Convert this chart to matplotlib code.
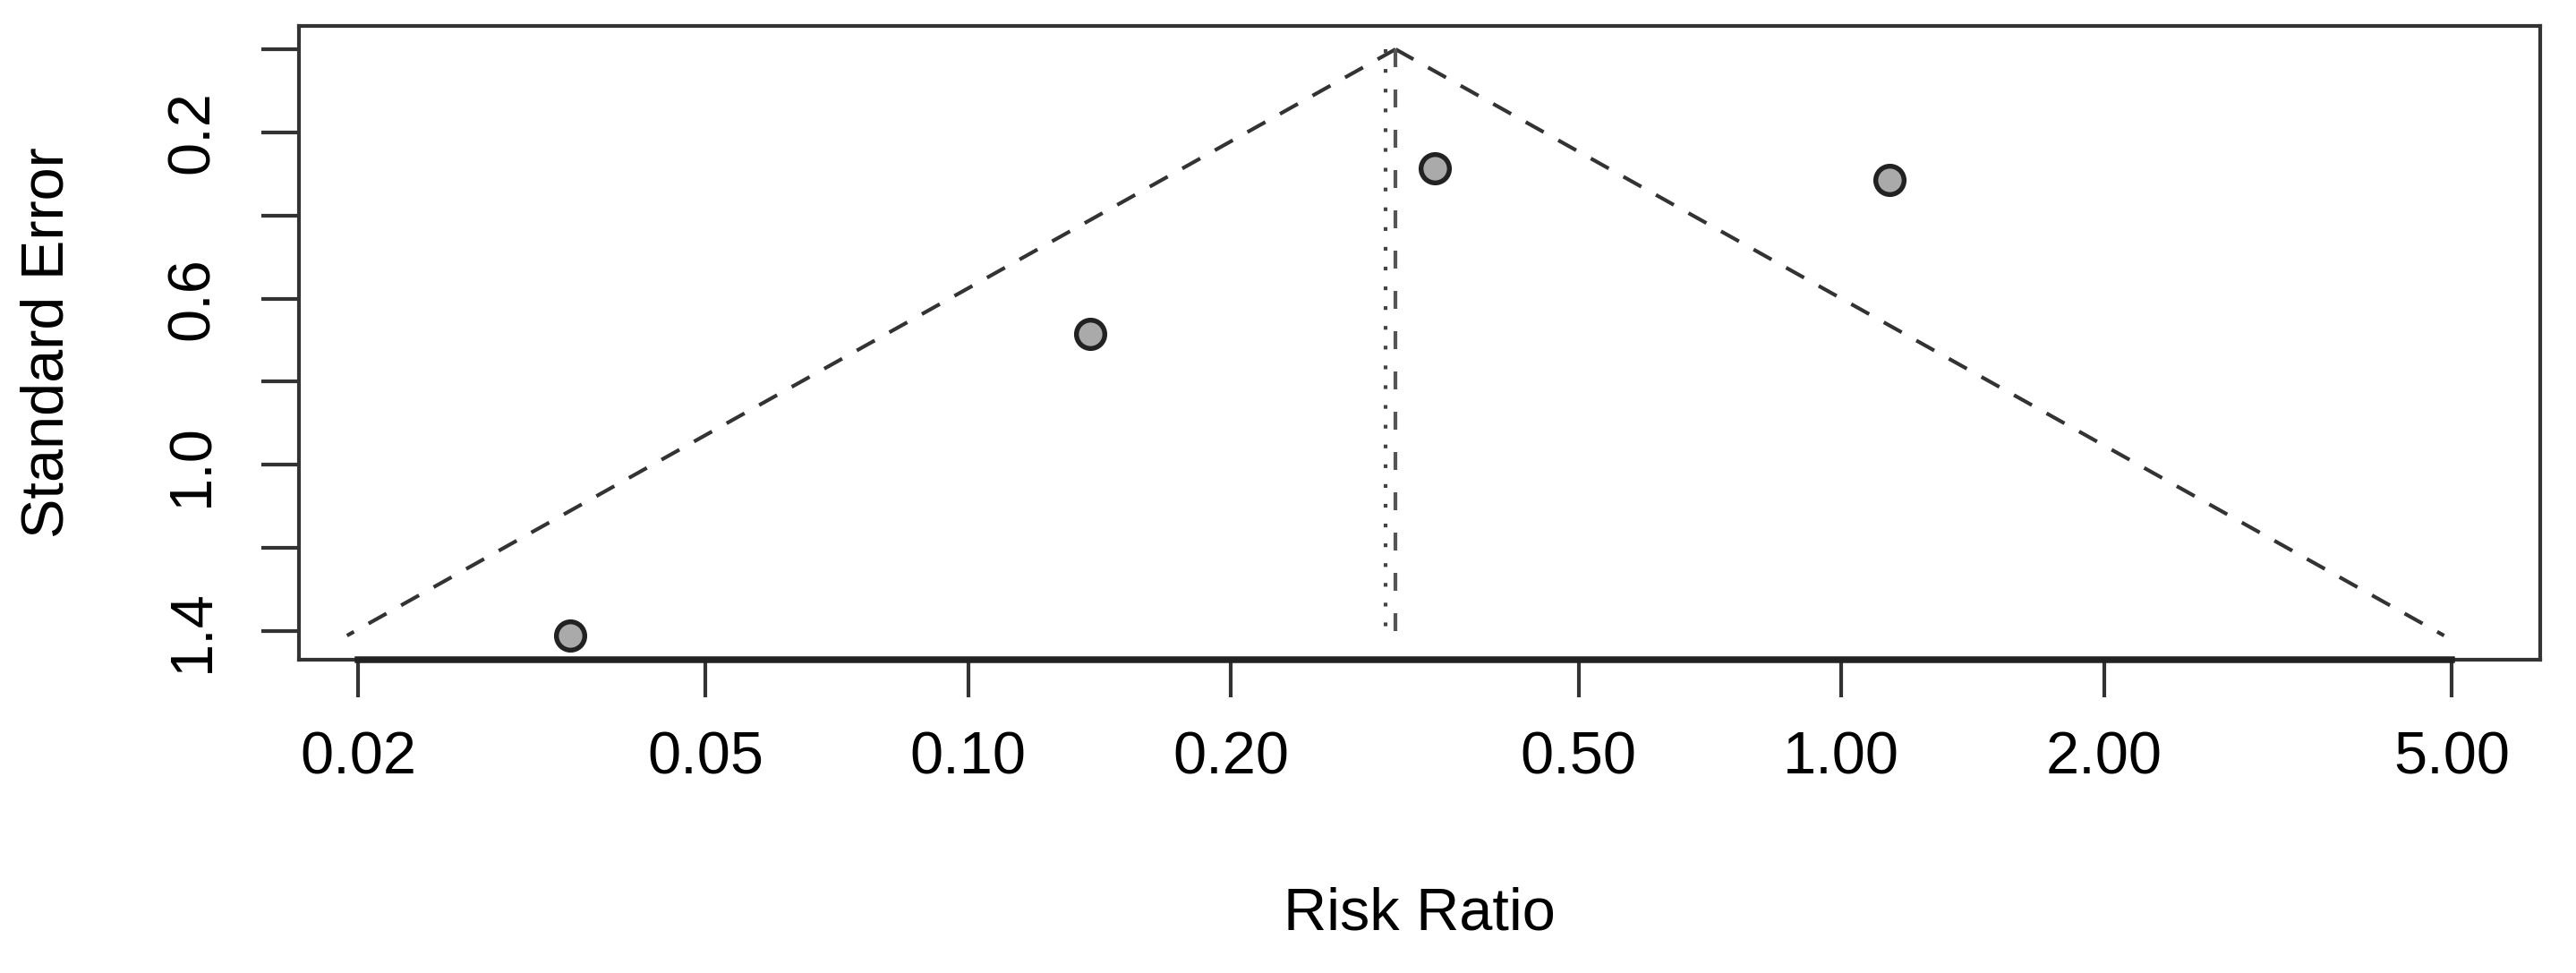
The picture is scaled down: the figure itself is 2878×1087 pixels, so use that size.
import numpy as np
import matplotlib.pyplot as plt

plt.rcParams['font.family'] = ['Liberation Sans', 'DejaVu Sans']

# study estimates
risk_ratio = [0.0350, 0.1379, 0.342, 1.136]
std_err = [1.411, 0.685, 0.2865, 0.3145]

# pooled estimates (funnel centre and dotted reference line)
est_funnel = 0.3086
est_ref = 0.3007
se_max = 1.411

xticks = [0.02, 0.05, 0.10, 0.20, 0.50, 1.00, 2.00, 5.00]
xtick_labels = ['0.02', '0.05', '0.10', '0.20', '0.50', '1.00', '2.00', '5.00']
yticks = [0.0, 0.2, 0.4, 0.6, 0.8, 1.0, 1.2, 1.4]
ytick_labels = ['', '0.2', '', '0.6', '', '1.0', '', '1.4']

fig = plt.figure(figsize=(2879/300, 1087/300), dpi=300)
ax = fig.add_axes([0.1160, 0.3220, 0.8698, 0.6513])

# funnel
se_line = np.array([0.0, se_max])
lo = np.exp(np.log(est_funnel) - 1.96*se_line)
hi = np.exp(np.log(est_funnel) + 1.96*se_line)
ax.plot(lo, se_line, color='#333333', lw=1.0, dashes=(5.5, 4.5))
ax.plot(hi, se_line, color='#333333', lw=1.0, dashes=(5.5, 4.5))

# vertical reference lines
ax.plot([est_ref, est_ref], [0, se_max], color='#444444', lw=1.0, dashes=(1, 4.3))
ax.plot([est_funnel, est_funnel], [0, se_max], color='#555555', lw=1.0, dashes=(4.8, 6))

ax.plot(risk_ratio, std_err, 'o', ms=7.6, mfc='#aaaaaa', mec='#222222', mew=1.3, zorder=5)

ax.set_xscale('log')
ax.set_xlim(0.01711, 6.32)
ax.set_ylim(1.469, -0.056)

ax.set_xticks(xticks)
ax.set_xticklabels(xtick_labels, fontsize=16)
ax.xaxis.set_minor_locator(plt.NullLocator())
ax.set_yticks(yticks)
ax.set_yticklabels(ytick_labels, fontsize=16, rotation=90, va='center')

ax.tick_params(axis='both', direction='out', length=10, width=1.0, color='#333333')
ax.tick_params(axis='x', pad=9)
ax.tick_params(axis='y', pad=11)

for sp in ax.spines.values():
    sp.set_color('#333333')
    sp.set_linewidth(1.0)

# R style axis line along the bottom between first and last tick
ax.plot([xticks[0], xticks[-1]], [1.469, 1.469], color='#222222', lw=1.8, clip_on=False, zorder=6)

ax.set_xlabel('Risk Ratio', fontsize=16, va='center')
ax.xaxis.set_label_coords(0.5, -0.4025)
ax.set_ylabel('Standard Error', fontsize=16, va='center')
ax.yaxis.set_label_coords(-0.1118, 0.5)

fig.savefig('out.png', dpi=300, facecolor='white')
